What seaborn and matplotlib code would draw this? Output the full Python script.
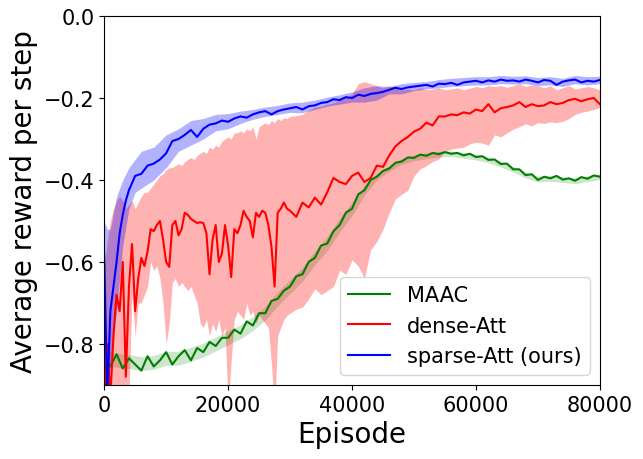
import matplotlib
matplotlib.use("Agg")
import matplotlib.pyplot as plt
import seaborn as sns
import numpy as np
import pandas as pd

# ---- MAAC (green) ----
maac_ep = np.arange(0, 80001, 1000)
maac_mean = [-0.83, -0.855, -0.825, -0.86, -0.835, -0.85, -0.865, -0.83, -0.855, -0.84,
             -0.82, -0.85, -0.83, -0.815, -0.84, -0.81, -0.82, -0.795, -0.805, -0.785,
             -0.785, -0.765, -0.775, -0.745, -0.755, -0.725, -0.725, -0.695, -0.69, -0.67,
             -0.66, -0.635, -0.63, -0.6, -0.59, -0.56, -0.555, -0.525, -0.51, -0.48,
             -0.47, -0.435, -0.425, -0.4, -0.392, -0.378, -0.372, -0.358, -0.355, -0.345,
             -0.346, -0.338, -0.341, -0.334, -0.337, -0.332, -0.336, -0.334, -0.34, -0.336,
             -0.344, -0.342, -0.351, -0.35, -0.361, -0.36, -0.374, -0.374, -0.388, -0.386,
             -0.4, -0.392, -0.396, -0.39, -0.399, -0.396, -0.402, -0.393, -0.397, -0.389,
             -0.392]
maac_band_ep = np.arange(0, 80001, 2000)
maac_lo = [-0.852, -0.857, -0.86, -0.865, -0.862, -0.852, -0.852, -0.842, -0.832, -0.817,
           -0.802, -0.787, -0.767, -0.742, -0.707, -0.677, -0.647, -0.607, -0.572, -0.527,
           -0.487, -0.437, -0.4, -0.379, -0.362, -0.353, -0.348, -0.344, -0.343, -0.347,
           -0.351, -0.358, -0.368, -0.381, -0.395, -0.405, -0.403, -0.406, -0.409, -0.404,
           -0.399]
maac_hi = [-0.818, -0.823, -0.826, -0.831, -0.828, -0.818, -0.818, -0.808, -0.798, -0.783,
           -0.768, -0.753, -0.733, -0.708, -0.673, -0.643, -0.613, -0.573, -0.538, -0.493,
           -0.453, -0.413, -0.384, -0.365, -0.348, -0.339, -0.334, -0.33, -0.329, -0.333,
           -0.337, -0.344, -0.354, -0.367, -0.381, -0.391, -0.389, -0.392, -0.395, -0.39,
           -0.385]

# ---- dense-Att (red) ----
dense_ep = list(range(0, 30001, 500)) + list(range(31000, 80001, 1000))
dense_mean = [-0.95, -0.80, -0.93, -0.78, -0.68, -0.72, -0.60, -0.88, -0.66, -0.556,
              -0.72, -0.64, -0.59, -0.61, -0.575, -0.52, -0.525, -0.51, -0.50, -0.545,
              -0.60, -0.612, -0.51, -0.50, -0.535, -0.52, -0.48, -0.485, -0.495, -0.50,
              -0.505, -0.503, -0.505, -0.53, -0.63, -0.545, -0.51, -0.60, -0.58, -0.51,
              -0.56, -0.637, -0.52, -0.53, -0.51, -0.475, -0.49, -0.50, -0.54, -0.48,
              -0.49, -0.475, -0.48, -0.51, -0.563, -0.66, -0.48, -0.47, -0.455, -0.47,
              -0.475,
              -0.49, -0.455, -0.467, -0.443, -0.46, -0.43, -0.395, -0.405, -0.41, -0.39,
              -0.382, -0.405, -0.395, -0.365, -0.368, -0.34, -0.318, -0.305, -0.295, -0.282,
              -0.275, -0.26, -0.267, -0.245, -0.245, -0.24, -0.242, -0.235, -0.238, -0.228,
              -0.232, -0.215, -0.235, -0.225, -0.222, -0.218, -0.21, -0.222, -0.215, -0.22,
              -0.218, -0.21, -0.215, -0.212, -0.205, -0.202, -0.208, -0.203, -0.2, -0.215]
dense_lo = [-0.95, -0.95, -0.95, -0.95, -0.93, -0.95, -0.95, -0.95, -0.92, -0.68,
            -0.78, -0.70, -0.70, -0.68, -0.66, -0.60, -0.62, -0.61, -0.64, -0.70,
            -0.80, -0.75, -0.65, -0.64, -0.66, -0.65, -0.66, -0.67, -0.66, -0.68,
            -0.70, -0.75, -0.76, -0.74, -0.78, -0.75, -0.77, -0.74, -0.78, -0.76,
            -0.95, -0.84, -0.74, -0.72, -0.73, -0.74, -0.70, -0.73, -0.72, -0.75,
            -0.73, -0.74, -0.75, -0.76, -0.85, -0.96, -0.78, -0.76, -0.74, -0.73,
            -0.725,
            -0.715, -0.71, -0.69, -0.665, -0.68, -0.67, -0.66, -0.62, -0.63, -0.595,
            -0.61, -0.64, -0.57, -0.55, -0.52, -0.48, -0.446, -0.435, -0.425, -0.39,
            -0.373, -0.365, -0.355, -0.349, -0.33, -0.325, -0.322, -0.32, -0.312, -0.308,
            -0.31, -0.315, -0.29, -0.295, -0.285, -0.276, -0.27, -0.263, -0.268, -0.26,
            -0.262, -0.258, -0.26, -0.257, -0.25, -0.24, -0.235, -0.232, -0.228, -0.223]
dense_hi = [-0.62, -0.55, -0.50, -0.47, -0.45, -0.44, -0.45, -0.47, -0.46, -0.45,
            -0.47, -0.455, -0.44, -0.43, -0.43, -0.42, -0.41, -0.40, -0.39, -0.385,
            -0.375, -0.37, -0.37, -0.365, -0.36, -0.365, -0.355, -0.35, -0.345, -0.35,
            -0.34, -0.335, -0.33, -0.335, -0.32, -0.325, -0.315, -0.32, -0.305, -0.30,
            -0.295, -0.30, -0.285, -0.285, -0.28, -0.285, -0.275, -0.28, -0.27, -0.30,
            -0.27, -0.265, -0.26, -0.265, -0.255, -0.26, -0.25, -0.255, -0.248, -0.25,
            -0.245,
            -0.243, -0.24, -0.23, -0.222, -0.22, -0.215, -0.212, -0.205, -0.2, -0.19,
            -0.165, -0.16, -0.165, -0.17, -0.175, -0.17, -0.175, -0.18, -0.178, -0.18,
            -0.175, -0.18, -0.178, -0.175, -0.18, -0.178, -0.175, -0.18, -0.176, -0.172,
            -0.175, -0.17, -0.172, -0.17, -0.174, -0.17, -0.165, -0.172, -0.168, -0.17,
            -0.175, -0.17, -0.18, -0.175, -0.17, -0.178, -0.175, -0.172, -0.175, -0.18]

# ---- sparse-Att (blue) ----
sparse_ep = [0, 500, 1000, 1500, 2000, 2500, 3000, 3500, 4000] + list(range(5000, 80001, 1000))
sparse_mean = [-0.58, -0.93, -0.72, -0.66, -0.60, -0.53, -0.485, -0.45, -0.425,
               -0.39, -0.385, -0.365, -0.36, -0.35, -0.335, -0.305, -0.30, -0.29, -0.278,
               -0.295, -0.275, -0.265, -0.262, -0.255, -0.258, -0.25, -0.245, -0.248, -0.24,
               -0.235, -0.232, -0.24, -0.232, -0.228, -0.225, -0.222, -0.228, -0.22, -0.218,
               -0.212, -0.21, -0.203, -0.205, -0.198, -0.2, -0.192, -0.195, -0.19, -0.188,
               -0.185, -0.18, -0.175, -0.178, -0.174, -0.172, -0.17, -0.168, -0.172, -0.165,
               -0.166, -0.163, -0.168, -0.162, -0.16, -0.158, -0.162, -0.157, -0.16, -0.155,
               -0.158, -0.157, -0.16, -0.155, -0.158, -0.162, -0.156, -0.158, -0.168, -0.16,
               -0.157, -0.155, -0.162, -0.158, -0.16, -0.156]
sparse_band_ep = [0, 500, 1000, 1500, 2000, 2500, 3000, 4000, 5000, 6000] + list(range(8000, 80001, 2000))
sparse_lo = [-0.95, -0.95, -0.85, -0.78, -0.72, -0.64, -0.56, -0.47, -0.43, -0.42,
             -0.40, -0.37, -0.33, -0.315, -0.30, -0.28, -0.275, -0.262, -0.252, -0.245,
             -0.24, -0.235, -0.236, -0.228, -0.22, -0.215, -0.21, -0.21, -0.205, -0.19,
             -0.19, -0.182, -0.178, -0.175, -0.172, -0.17, -0.168, -0.168, -0.165, -0.166,
             -0.165, -0.17, -0.168, -0.172, -0.165, -0.168, -0.165]
sparse_hi = [-0.50, -0.52, -0.52, -0.48, -0.44, -0.42, -0.40, -0.37, -0.35, -0.33,
             -0.32, -0.29, -0.275, -0.255, -0.25, -0.24, -0.238, -0.232, -0.228, -0.222,
             -0.218, -0.212, -0.21, -0.205, -0.198, -0.192, -0.185, -0.175, -0.17, -0.172,
             -0.165, -0.162, -0.16, -0.155, -0.152, -0.15, -0.148, -0.148, -0.145, -0.147,
             -0.146, -0.15, -0.148, -0.152, -0.145, -0.148, -0.147]

fig, ax = plt.subplots(figsize=(6.43, 4.60), dpi=100)
fig.subplots_adjust(left=0.162, right=0.933, top=0.963, bottom=0.161)

# shaded bands first, lines on top
ax.fill_between(maac_band_ep, maac_lo, maac_hi, color="green", alpha=0.2, linewidth=0)
ax.fill_between(dense_ep, dense_lo, dense_hi, color="red", alpha=0.3, linewidth=0)
ax.fill_between(sparse_band_ep, sparse_lo, sparse_hi, color="blue", alpha=0.3, linewidth=0)

sns.lineplot(x=maac_ep, y=maac_mean, color="green", label="MAAC", ax=ax, linewidth=1.5)
sns.lineplot(x=dense_ep, y=dense_mean, color="red", label="dense-Att", ax=ax, linewidth=1.5)
sns.lineplot(x=sparse_ep, y=sparse_mean, color="blue", label="sparse-Att (ours)", ax=ax, linewidth=1.5)

ax.set_xlim(0, 80000)
ax.set_ylim(-0.9, 0.0)
ax.set_xticks([0, 20000, 40000, 60000, 80000])
ax.set_yticks([-0.8, -0.6, -0.4, -0.2, 0.0])
ax.tick_params(labelsize=15)
ax.set_xlabel("Episode", fontsize=20)
ax.set_ylabel("Average reward per step", fontsize=20)
ax.legend(loc="lower right", fontsize=15)

fig.savefig("out.png", dpi=100)
